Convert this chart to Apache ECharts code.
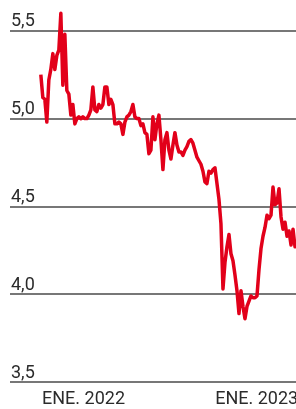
<!DOCTYPE html>
<html>
<head>
<meta charset="utf-8">
<script src="https://cdn.jsdelivr.net/npm/echarts@6/dist/echarts.min.js"></script>
<style>
    html, body { margin: 0; padding: 0; background: #fff; }
    #chartRoot { width: 296px; height: 409px; }
</style>
</head>
<body>
<div id="chartRoot"></div>
<script>
// serie, una muestra cada ~4 días desde principios de oct. 2021
const startDay = -90;      // días desde 1 ene. 2022
const stepDays = 4.22;
const rate = [
    5.25, 5.12, 5.11, 4.98, 5.22, 5.28, 5.37, 5.28, 5.36, 5.39,
    5.60, 5.19, 5.48, 5.16, 5.14, 5.02, 5.08, 4.97, 5.00, 5.01,
    5.00, 5.01, 5.00, 5.00, 5.02, 5.05, 5.18, 5.05, 5.04, 5.08,
    5.06, 5.08, 5.18, 5.18, 5.08, 5.11, 5.08, 4.97, 4.97, 4.98,
    4.97, 4.91, 4.98, 5.01, 5.02, 5.04, 5.08, 5.01, 5.00, 5.00,
    4.96, 4.97, 4.92, 4.91, 4.80, 4.82, 5.01, 4.88, 4.97, 5.02,
    4.88, 4.71, 4.88, 4.92, 4.82, 4.77, 4.85, 4.92, 4.85, 4.81,
    4.81, 4.79, 4.82, 4.84, 4.87, 4.88, 4.86, 4.82, 4.78, 4.76,
    4.74, 4.70, 4.64, 4.63, 4.70, 4.69, 4.71, 4.72, 4.63, 4.54,
    4.40, 4.03, 4.18, 4.27, 4.34, 4.23, 4.19, 4.11, 4.02, 3.89,
    4.02, 3.93, 3.86, 3.93, 3.96, 3.99, 3.98, 3.98, 3.99, 4.14,
    4.26, 4.33, 4.38, 4.45, 4.43, 4.45, 4.61, 4.51, 4.52, 4.60,
    4.44, 4.37, 4.41, 4.33, 4.36, 4.28, 4.37, 4.27, 4.28
];
const tickDays = [0, 365];
const tickLabels = ["ENE. 2022", "ENE. 2023"];

let seriesData = [];
for (let i = 0; i < rate.length; i++) {
    seriesData.push([startDay + i * stepDays, rate[i]]);
}

let myChart = echarts.init(document.querySelector("#chartRoot"), null, { renderer: "canvas" });
let option = {
    backgroundColor: "#fff",
    animation: false,
    grid: {
        left: 10,
        right: 0,
        top: -57,
        bottom: 27,
        outerBoundsMode: "none",
        containLabel: false
    },
    xAxis: {
        type: "value",
        min: -155,
        max: 448,
        axisLine: { show: false },
        axisTick: { show: false },
        splitLine: { show: false },
        axisLabel: {
            customValues: tickDays,
            margin: 8,
            color: "#2b2b2b",
            fontFamily: "Roboto",
            fontSize: 18,
            formatter: function (v) {
                return tickLabels[tickDays.indexOf(v)];
            }
        }
    },
    yAxis: {
        type: "value",
        min: 3.5,
        max: 6.0,
        interval: 0.5,
        axisLine: { show: false },
        axisTick: { show: false },
        splitLine: {
            lineStyle: { color: "#4a4a4a", width: 1.5 }
        },
        axisLabel: {
            inside: true,
            margin: 1,
            verticalAlign: "bottom",
            color: "#2b2b2b",
            fontFamily: "Roboto",
            fontSize: 18,
            formatter: function (v) {
                return v.toFixed(1).replace(".", ",");
            }
        }
    },
    series: [{
        type: "line",
        data: seriesData,
        symbol: "none",
        lineStyle: { color: "#e2001a", width: 3.5, join: "round" }
    }]
};
myChart.setOption(option, true);
</script>
</body>
</html>
